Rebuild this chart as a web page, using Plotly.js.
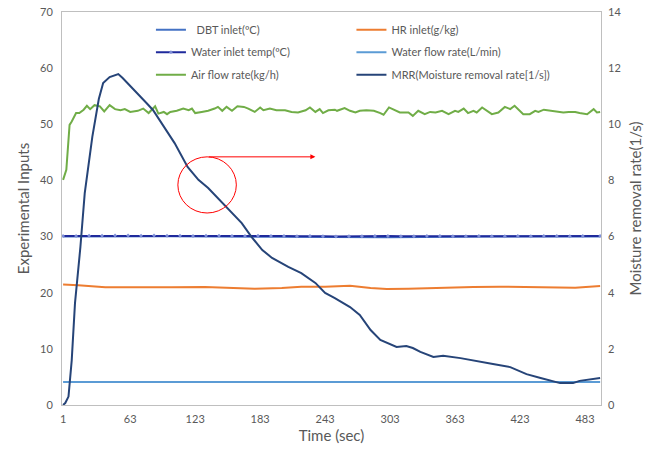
<!DOCTYPE html>
<html>
<head>
<meta charset="utf-8">
<script src="https://cdn.plot.ly/plotly-3.0.1.min.js"></script>
<style>html,body{margin:0;padding:0;background:#fff;}#chart{width:659px;height:450px;}</style>
</head>
<body>
<div id="chart"></div>
<script>
// ---- Data ----
const xTickVals = [1, 63, 123, 183, 243, 303, 363, 423, 483];
const xTickText = ["1", "63", "123", "183", "243", "303", "363", "423", "483"];

const timeDBT = [1, 100, 200, 300, 400, 497];
const dbtInlet = [30.0, 30.05, 29.95, 29.9, 30.0, 30.0];

const timeHR = [1, 15, 40, 70, 101, 132, 157, 178, 203, 221, 243, 266, 285, 300, 320, 349, 380, 404, 430, 450, 474, 497];
const hrInlet = [21.45, 21.35, 20.97, 20.92, 20.97, 21.0, 20.92, 20.72, 20.85, 21.05, 21.07, 21.25, 20.85, 20.66, 20.7, 20.9, 21.0, 21.07, 21.0, 20.84, 20.9, 21.2];

const timeWIT = [1, 13, 25, 37, 49, 61, 73, 85, 97, 109, 121, 133, 145, 157, 169, 181, 193, 205, 217, 229, 241, 253, 265, 277, 289, 301, 313, 325, 337, 349, 361, 373, 385, 397, 409, 421, 433, 445, 457, 469, 481, 497];
const waterInletTemp = [30.1, 30.1, 30.15, 30.15, 30.2, 30.2, 30.15, 30.2, 30.15, 30.15, 30.1, 30.15, 30.15, 30.1, 30.1, 30.15, 30.1, 30.1, 30.05, 30.1, 30.05, 30.0, 30.05, 30.05, 30.1, 30.1, 30.05, 30.05, 30.1, 30.1, 30.05, 30.05, 30.1, 30.05, 30.05, 30.1, 30.05, 30.1, 30.1, 30.05, 30.1, 30.1];

const timeWF = [1, 40, 80, 120, 160, 200, 240, 280, 320, 360, 400, 440, 480, 497];
const waterFlow = [4.1, 4.1, 4.15, 4.1, 4.1, 4.12, 4.1, 4.1, 4.12, 4.1, 4.1, 4.12, 4.1, 4.1];

const timeAir = [1, 4, 7, 9, 13, 16, 20, 23, 26, 30, 35, 39, 44, 49, 54, 58, 63, 70, 75, 80, 86, 89, 94, 97, 100, 106, 112, 117, 120, 123, 129, 135, 141, 144, 148, 152, 157, 162, 168, 172, 178, 183, 186, 192, 198, 206, 212, 218, 225, 229, 234, 238, 241, 246, 252, 254, 261, 266, 271, 275, 281, 288, 294, 297, 302, 308, 312, 320, 324, 329, 335, 340, 345, 351, 357, 363, 366, 371, 375, 380, 383, 388, 392, 397, 403, 409, 414, 418, 426, 432, 437, 440, 445, 451, 457, 463, 468, 474, 478, 485, 491, 494, 497];
const airFlow = [40.1, 41.9, 49.9, 50.5, 52.0, 52.0, 52.6, 53.3, 52.7, 53.4, 53.2, 52.3, 53.4, 52.7, 52.5, 52.7, 52.2, 52.4, 52.8, 52.0, 53.2, 51.9, 52.2, 51.8, 52.2, 52.4, 52.8, 52.5, 52.8, 52.0, 52.2, 52.4, 52.8, 53.1, 52.4, 53.1, 52.4, 53.2, 53.1, 52.8, 52.2, 53.0, 52.5, 52.8, 52.5, 52.5, 52.2, 52.1, 52.5, 53.0, 52.2, 52.7, 52.0, 52.5, 52.6, 52.4, 52.9, 52.4, 52.1, 52.4, 52.5, 52.4, 52.0, 51.7, 53.0, 52.5, 52.1, 52.1, 51.5, 52.4, 51.8, 52.2, 52.1, 52.4, 51.8, 52.4, 52.2, 52.8, 52.0, 52.4, 52.1, 53.0, 52.4, 51.8, 52.1, 53.1, 52.7, 53.3, 51.8, 51.8, 52.4, 52.2, 52.6, 52.4, 52.2, 52.1, 52.2, 52.2, 52.0, 51.8, 52.7, 52.1, 52.2];

const timeMRR = [1, 3, 6, 9, 12, 17, 21, 28, 34, 38, 44, 52, 56, 64, 70, 78, 84, 92, 104, 116, 126, 135, 148, 160, 166, 175, 185, 194, 209, 221, 234, 243, 252, 266, 275, 285, 294, 309, 318, 324, 331, 343, 352, 368, 386, 398, 414, 429, 442, 460, 472, 478, 497];
const mrr = [0, 0.07, 0.30, 1.6, 3.63, 5.63, 7.55, 9.55, 10.9, 11.47, 11.68, 11.79, 11.65, 11.33, 11.11, 10.76, 10.51, 10.05, 9.33, 8.48, 8.02, 7.73, 7.20, 6.70, 6.48, 5.99, 5.52, 5.24, 4.92, 4.70, 4.35, 3.99, 3.81, 3.49, 3.21, 2.67, 2.32, 2.07, 2.10, 2.03, 1.89, 1.71, 1.75, 1.67, 1.53, 1.46, 1.35, 1.10, 0.96, 0.78, 0.78, 0.86, 0.96];

// ---- Chart ----
const FONT = "Lato, 'Open Sans', sans-serif";
const GREY = "#595959";

const traces = [
  {x: timeDBT, y: dbtInlet, name: "&nbsp;&nbsp;DBT inlet(ºC)", legendgroup: "g1", mode: "lines", line: {color: "#4472C4", width: 2}, legend: "legend"},
  {x: timeWIT, y: waterInletTemp, name: "Water inlet temp(ºC)", legendgroup: "g2", mode: "lines+markers", line: {color: "#1F2A9C", width: 2}, marker: {size: 3, color: "#7F8FD8", symbol: "diamond"}, legend: "legend"},
  {x: timeAir, y: airFlow, name: "Air flow rate(kg/h)", legendgroup: "g3", mode: "lines", line: {color: "#70AD47", width: 2}, legend: "legend"},
  {x: timeHR, y: hrInlet, name: "HR inlet(g/kg)", legendgroup: "g4", mode: "lines", line: {color: "#ED7D31", width: 2}, legend: "legend2"},
  {x: timeWF, y: waterFlow, name: "Water flow rate(L/min)", legendgroup: "g5", mode: "lines", line: {color: "#5B9BD5", width: 2}, legend: "legend2"},
  {x: timeMRR, y: mrr, name: "MRR(Moisture removal rate[1/s])", legendgroup: "g6", mode: "lines", yaxis: "y2", line: {color: "#264478", width: 2}, legend: "legend2"}
];

const legendBase = {
  font: {family: FONT, size: 11, color: GREY},
  bgcolor: "rgba(0,0,0,0)",
  yanchor: "top",
  y: 0.992,
  tracegroupgap: 3.5,
  itemwidth: 30,
  traceorder: "grouped"
};

const layout = {
  width: 659, height: 450,
  margin: {l: 62, r: 58, t: 12, b: 45},
  paper_bgcolor: "#fff", plot_bgcolor: "#fff",
  font: {family: FONT, color: GREY},
  showlegend: true,
  legend: Object.assign({}, legendBase, {x: 0.165}),
  legend2: Object.assign({}, legendBase, {x: 0.537}),
  xaxis: {
    range: [0, 497.8], tickvals: xTickVals, ticktext: xTickText,
    showgrid: false, zeroline: false, showline: true, linecolor: "#BFBFBF", linewidth: 1, mirror: true,
    ticks: "", ticklabelstandoff: 4, tickfont: {family: FONT, size: 11, color: GREY},
    title: {text: "Time (sec)", font: {family: FONT, size: 15, color: GREY}, standoff: 6}
  },
  yaxis: {
    range: [0, 70], dtick: 10, showgrid: false, zeroline: false, showline: true, linecolor: "#BFBFBF", linewidth: 1, mirror: true,
    ticks: "", ticklabelstandoff: 6, tickfont: {family: FONT, size: 11, color: GREY},
    title: {text: "Experimental Inputs", font: {family: FONT, size: 15, color: GREY}, standoff: 6}
  },
  yaxis2: {
    range: [0, 14], dtick: 2, overlaying: "y", side: "right", showgrid: false, zeroline: false, showline: false,
    ticks: "", ticklabelstandoff: 6, tickfont: {family: FONT, size: 11, color: GREY},
    title: {text: "Moisture removal rate(1/s)", font: {family: FONT, size: 15, color: GREY}, standoff: 10}
  },
  shapes: [
    {type: "circle", xref: "x", yref: "y", x0: 107, x1: 161, y0: 34.2, y1: 44.2, line: {color: "#FF0000", width: 1}}
  ],
  annotations: [
    {xref: "x", yref: "y", x: 234, y: 44.2, ax: -108, ay: 0, text: "", showarrow: true, arrowhead: 2, arrowsize: 1, arrowwidth: 1, arrowcolor: "#FF0000"}
  ]
};

Plotly.newPlot("chart", traces, layout, {displayModeBar: false, staticPlot: true});
</script>
</body>
</html>
